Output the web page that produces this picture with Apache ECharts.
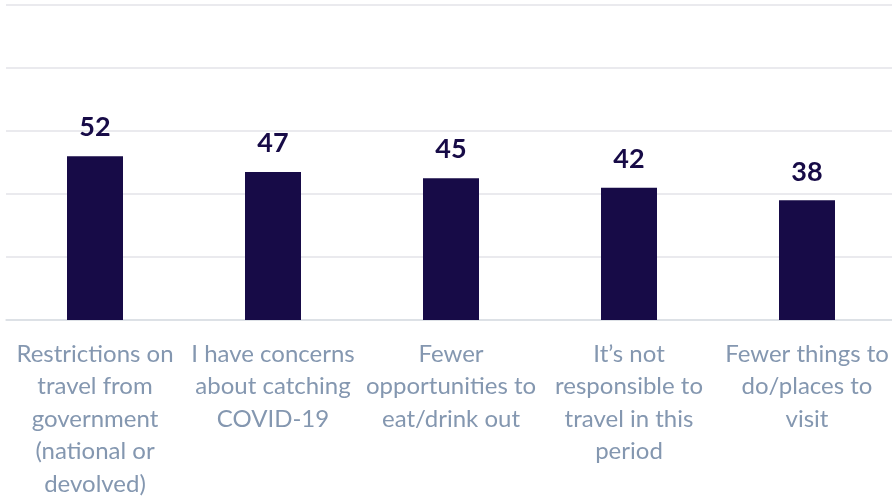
<!DOCTYPE html>
<html>
<head>
<meta charset="utf-8">
<script src="https://cdn.jsdelivr.net/npm/echarts@6/dist/echarts.min.js"></script>
<style>
  html, body { margin: 0; padding: 0; background: #ffffff; }
  #chart { width: 892px; height: 496px; }
</style>
</head>
<body>
<div id="chart"></div>
<script>
// Reasons given for not travelling (% of respondents)
const categories = [
  'Restrictions on\ntravel from\ngovernment\n(national or\ndevolved)',
  'I have concerns\nabout catching\nCOVID-19',
  'Fewer\nopportunities to\neat/drink out',
  'It\u2019s not\nresponsible to\ntravel in this\nperiod',
  'Fewer things to\ndo/places to\nvisit'
];
const values = [52, 47, 45, 42, 38];
const axisMax = 100;
const axisStep = 20;

const chart = echarts.init(document.getElementById('chart'), null, { renderer: 'canvas' });
chart.setOption({
  animation: false,
  backgroundColor: '#ffffff',
  grid: { left: 6, right: -4, top: 5, bottom: 176, containLabel: false, outerBoundsMode: 'none' },
  xAxis: {
    type: 'category',
    data: categories,
    axisLine: { show: true, lineStyle: { color: '#D9DEE4', width: 1.5 } },
    axisTick: { show: false },
    axisLabel: {
      interval: 0,
      margin: 18,
      color: '#8497B0',
      fontFamily: 'Lato, "Open Sans", sans-serif',
      fontSize: 24,
      lineHeight: 32.5,
      align: 'center'
    }
  },
  yAxis: {
    type: 'value',
    min: 0,
    max: axisMax,
    interval: axisStep,
    axisLine: { show: false },
    axisTick: { show: false },
    axisLabel: { show: false },
    splitLine: { show: true, lineStyle: { color: '#E3E3E8', width: 1.5 } }
  },
  series: [{
    type: 'bar',
    data: values,
    barWidth: 56,
    itemStyle: { color: '#170B47' },
    label: {
      show: true,
      position: 'top',
      distance: 15,
      color: '#170B47',
      fontFamily: 'Lato, "Open Sans", sans-serif',
      fontWeight: 'bold',
      fontSize: 27
    }
  }]
});
</script>
</body>
</html>
